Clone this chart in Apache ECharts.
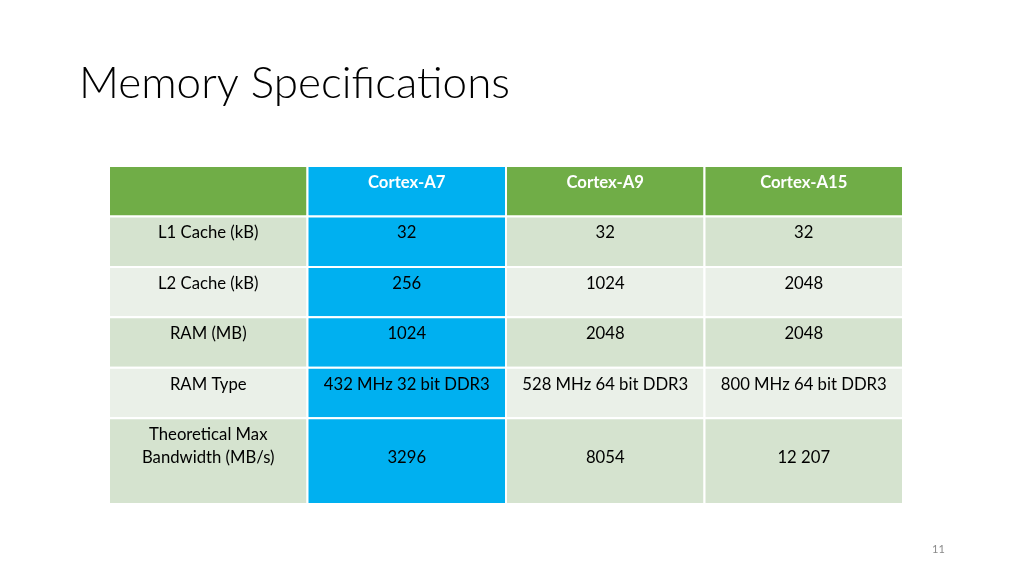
<!DOCTYPE html>
<html><head><meta charset="utf-8">
<script src="https://cdn.jsdelivr.net/npm/echarts@6/dist/echarts.min.js"></script>
<style>html,body{margin:0;padding:0;background:#fff}#c{width:1024px;height:576px}</style>
</head><body><div id="c"></div>
<script>
const title = 'Memory Specifications';
const pageNumber = '11';
const columns = ['Cortex-A7', 'Cortex-A9', 'Cortex-A15'];
const rowLabels = ['L1 Cache (kB)', 'L2 Cache (kB)', 'RAM (MB)', 'RAM Type', 'Theoretical Max\nBandwidth (MB/s)'];
const cortexA7 = ['32', '256', '1024', '432 MHz 32 bit DDR3', '3296'];
const cortexA9 = ['32', '1024', '2048', '528 MHz 64 bit DDR3', '8054'];
const cortexA15 = ['32', '2048', '2048', '800 MHz 64 bit DDR3', '12 207'];

// layout (relative row heights: header + body rows)
const rowUnits = [1, 1, 1, 1, 1, 1.7];
const edges = [0];
rowUnits.forEach(u => edges.push(edges[edges.length - 1] + u));
const colValues = [cortexA7, cortexA9, cortexA15];

const GREEN = '#70AD47', BLUE = '#00B0F0', DARK = '#D5E3CF', LIGHT = '#EAF0E8';
const cells = [];
cells.push({ value: [0, 1, edges[0], edges[1]], text: '', fill: GREEN, header: true, row: 0 });
columns.forEach((c, i) => cells.push({ value: [i + 1, i + 2, edges[0], edges[1]], text: c, fill: i === 0 ? BLUE : GREEN, header: true, row: 0 }));
rowLabels.forEach((lab, r) => {
  const bg = r % 2 === 0 ? DARK : LIGHT;
  cells.push({ value: [0, 1, edges[r + 1], edges[r + 2]], text: lab, fill: bg, header: false, row: r + 1 });
  colValues.forEach((arr, i) => cells.push({ value: [i + 1, i + 2, edges[r + 1], edges[r + 2]], text: arr[r], fill: i === 0 ? BLUE : bg, header: false, row: r + 1 }));
});

const FONT = 'Lato, "Open Sans", sans-serif';
const chart = echarts.init(document.getElementById('c'), null, { renderer: 'canvas' });
chart.setOption({
  backgroundColor: '#fff',
  animation: false,
  title: [
    { text: title, left: 79, top: 62, padding: 0, textStyle: { fontFamily: FONT, fontWeight: 300, fontSize: 44, color: '#000' } },
    { text: pageNumber, left: 932, top: 544, padding: 0, textStyle: { fontFamily: FONT, fontWeight: 'normal', fontSize: 11, color: '#8a8a8a' } }
  ],
  grid: { left: 109, right: 121, top: 166, bottom: 72 },
  xAxis: { type: 'value', min: 0, max: 4, show: false },
  yAxis: { type: 'value', min: 0, max: edges[edges.length - 1], inverse: true, show: false },
  series: [{
    type: 'custom',
    data: cells,
    renderItem: function (params, api) {
      const d = cells[params.dataIndex];
      const p0 = api.coord([api.value(0), api.value(2)]);
      const p1 = api.coord([api.value(1), api.value(3)]);
      const x = p0[0], y = p0[1], w = p1[0] - p0[0], h = p1[1] - p0[1];
      const last = d.row === rowUnits.length - 1;
      const multi = d.text.indexOf('\n') >= 0;
      let ty = y + (d.header ? 17 : 16.5);
      if (last) ty = multi ? y + 28 : y + 39;
      return {
        type: 'group',
        children: [
          { type: 'rect', shape: { x: x, y: y, width: w, height: h }, style: { fill: d.fill, stroke: '#fff', lineWidth: 2 } },
          { type: 'text', style: {
              x: x + w / 2, y: ty, text: d.text, align: 'center', verticalAlign: 'middle',
              fill: d.header ? '#fff' : '#000', fontFamily: FONT,
              fontWeight: d.header ? 'bold' : 'normal', fontSize: 16.7, lineHeight: 23
          } }
        ]
      };
    }
  }]
});
</script></body></html>
